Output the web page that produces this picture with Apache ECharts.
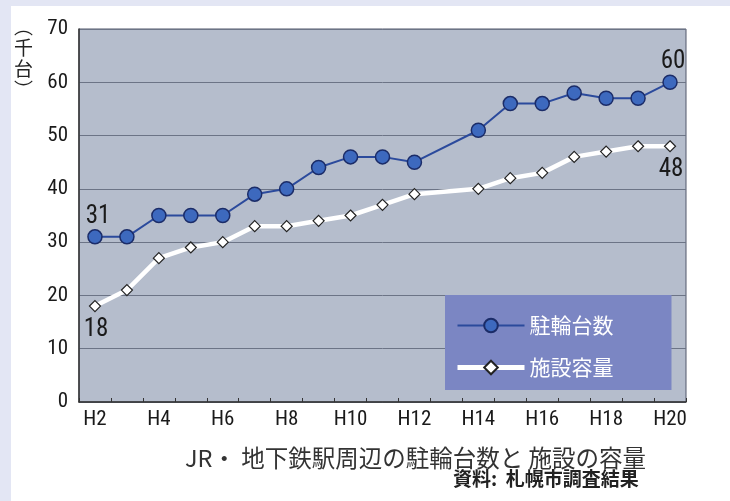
<!DOCTYPE html>
<html>
<head>
<meta charset="utf-8">
<title>駐輪台数と施設容量</title>
<script src="https://cdn.jsdelivr.net/npm/echarts@6/dist/echarts.min.js"></script>
<style>
  html, body { margin: 0; padding: 0; background: #fff; }
  #chart { width: 730px; height: 501px; }
</style>
</head>
<body>
<div id="chart"></div>
<script>
  // 年度 (H13 は調査なし)
  var years = ['H2','H3','H4','H5','H6','H7','H8','H9','H10','H11','H12','H13','H14','H15','H16','H17','H18','H19','H20'];
  // 駐輪台数 (千台)
  var parked = [31, 31, 35, 35, 35, 39, 40, 44, 46, 46, 45, null, 51, 56, 56, 58, 57, 57, 60];
  // 施設容量 (千台)
  var capacity = [18, 21, 27, 29, 30, 33, 33, 34, 35, 37, 39, null, 40, 42, 43, 46, 47, 48, 48];

  var narrow = '"Roboto Condensed", "Liberation Sans", sans-serif';
  var jp = '"Noto Sans CJK JP", sans-serif';
  var lastIdx = years.length - 1;

  // 最初と最後の値だけラベルを出す
  function endLabel(p) {
    return (p.dataIndex === 0 || p.dataIndex === lastIdx) ? p.value : '';
  }

  var chart = echarts.init(document.getElementById('chart'));

  var option = {
    backgroundColor: '#ffffff',
    animation: false,
    grid: {
      left: 79,
      top: 29,
      right: 44,
      bottom: 99,
      show: true,
      backgroundColor: '#b5bdcc',
      borderColor: '#50566a',
      borderWidth: 1
    },
    graphic: [
      { type: 'rect', left: 0, top: 0, shape: { width: 730, height: 6 }, style: { fill: '#e3e6f4' }, z: -10 },
      { type: 'rect', left: 0, top: 0, shape: { width: 11, height: 501 }, style: { fill: '#e3e6f4' }, z: -10 },
      {
        type: 'text', left: 14, top: 16,
        style: { text: '︵\n千\n台\n︶', font: '19px ' + jp, fill: '#222', lineHeight: 21, align: 'center' }
      },
      {
        type: 'text', left: 185, top: 446,
        style: { text: 'JR・ 地下鉄駅周辺の駐輪台数と 施設の容量', font: '23.5px ' + jp, fill: '#333' }
      },
      {
        type: 'text', left: 453, top: 469,
        style: { text: '資料:  札幌市調査結果', font: 'bold 19px ' + jp, fill: '#222' }
      }
    ],
    legend: {
      orient: 'vertical',
      left: 445,
      top: 295,
      padding: [20, 58, 12, 10],
      itemGap: 21,
      itemWidth: 67,
      itemHeight: 17,
      backgroundColor: '#7b86c3',
      textStyle: { color: '#ffffff', fontSize: 21, fontFamily: jp },
      data: [
        { name: '駐輪台数', lineStyle: { width: 2 } },
        { name: '施設容量', lineStyle: { width: 5 } }
      ]
    },
    xAxis: {
      type: 'category',
      data: years,
      boundaryGap: true,
      axisLine: { lineStyle: { color: '#333', width: 1.5 } },
      axisTick: { show: true, inside: true, length: 4, interval: 0, lineStyle: { color: '#333' } },
      axisLabel: { interval: 1, color: '#1a1a1a', fontSize: 21, fontFamily: narrow, margin: 7 },
      splitLine: { show: false }
    },
    yAxis: {
      type: 'value',
      min: 0,
      max: 70,
      interval: 10,
      axisLine: { show: true, lineStyle: { color: '#333', width: 1.5 } },
      axisTick: { show: false },
      axisLabel: { color: '#1a1a1a', fontSize: 21, fontFamily: narrow, margin: 11 },
      splitLine: { lineStyle: { color: '#6c7486', width: 1 } }
    },
    series: [
      {
        name: '駐輪台数',
        type: 'line',
        data: parked,
        connectNulls: true,
        symbol: 'circle',
        symbolSize: 14,
        lineStyle: { color: '#2b4a9c', width: 2 },
        itemStyle: { color: '#3d69be', borderColor: '#1b2c68', borderWidth: 1.5 },
        label: {
          show: true,
          position: 'top',
          distance: 2,
          offset: [3, 2],
          formatter: endLabel,
          color: '#1a1a1a',
          fontSize: 25,
          fontFamily: narrow
        },
        z: 3
      },
      {
        name: '施設容量',
        type: 'line',
        data: capacity,
        connectNulls: true,
        symbol: 'diamond',
        symbolSize: 11,
        lineStyle: { color: '#ffffff', width: 4.5 },
        itemStyle: { color: '#ffffff', borderColor: '#222', borderWidth: 1.2 },
        label: {
          show: true,
          position: 'bottom',
          distance: 2,
          offset: [1, 3],
          formatter: endLabel,
          color: '#1a1a1a',
          fontSize: 25,
          fontFamily: narrow
        },
        z: 2
      }
    ]
  };

  chart.setOption(option);
</script>
</body>
</html>
